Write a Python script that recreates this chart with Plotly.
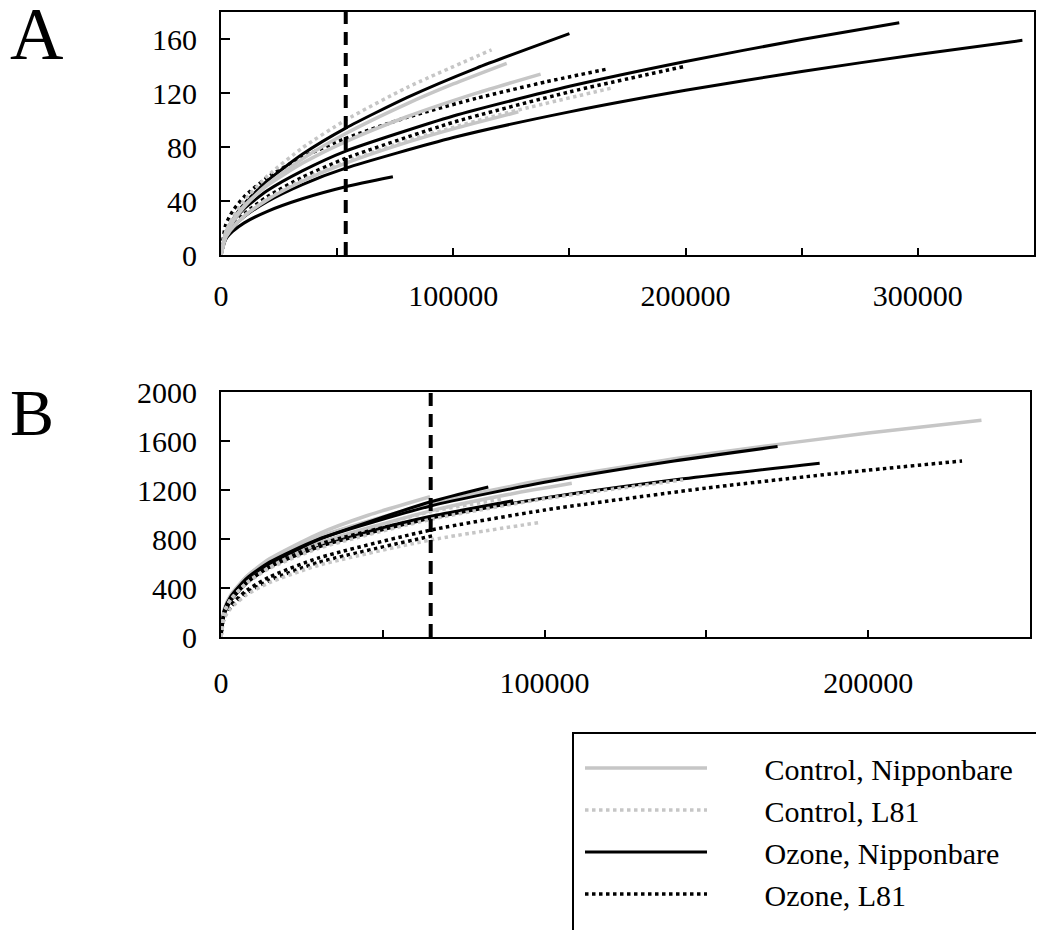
import plotly.graph_objects as go

# ---------------- Panel A: rarefaction curves (x = reads, y = OTUs) ----------------
A_CN1_x = [0, 2000, 5000, 10000, 20000, 35000, 53700, 80000, 100000, 123000]
A_CN1_y = [0, 14.7, 24.4, 35.7, 52.3, 71.1, 90, 112, 126.7, 142]
A_CN2_x = [0, 2000, 5000, 10000, 20000, 35000, 53700, 80000, 110000, 137600]
A_CN2_y = [0, 16.4, 25.9, 36.5, 51.5, 67.9, 84, 102.4, 119.9, 134]
A_CN3_x = [0, 2000, 5000, 10000, 20000, 35000, 53700, 80000, 100000, 128000]
A_CN3_y = [0, 12.7, 20.2, 28.8, 41, 54.6, 68, 83.4, 93.4, 106]

A_CL1_x = [0, 2000, 5000, 10000, 20000, 35000, 53700, 80000, 116500]
A_CL1_y = [0, 16.9, 27.7, 40.3, 58.6, 79.3, 100, 124, 152]
A_CL2_x = [0, 2000, 5000, 10000, 20000, 35000, 53700, 80000, 120000, 169000]
A_CL2_y = [0, 12.9, 20.5, 29.2, 41.6, 55.4, 69, 84.6, 104, 124]

A_ON1_x = [0, 2000, 5000, 10000, 20000, 35000, 53700, 80000, 110000, 150000]
A_ON1_y = [0, 15.9, 26, 37.9, 55, 74.6, 94, 116.6, 138.5, 164]
A_ON2_x = [0, 2000, 5000, 10000, 20000, 35000, 53700, 100000, 150000, 200000, 250000, 292000]
A_ON2_y = [0, 15.9, 24.6, 34.3, 47.7, 62.3, 77, 103, 125, 143.4, 159.6, 172]
A_ON3_x = [0, 2000, 5000, 10000, 20000, 35000, 53700, 100000, 150000, 200000, 250000, 300000, 345000]
A_ON3_y = [0, 13, 20.3, 28.4, 39.7, 52.2, 64.3, 87, 106, 122, 136, 148.5, 159]
A_ON4_x = [0, 2000, 5000, 10000, 20000, 35000, 53700, 74000]
A_ON4_y = [0, 11.5, 17.4, 23.8, 32.4, 41.7, 50.6, 58]

A_OL1_x = [0, 2000, 5000, 10000, 20000, 35000, 53700, 80000, 110000, 140000, 167000]
A_OL1_y = [0, 22.2, 32.4, 43.2, 57.5, 72.4, 86.4, 101.9, 116.1, 128.3, 138]
A_OL2_x = [0, 2000, 5000, 10000, 20000, 35000, 53700, 100000, 150000, 199000]
A_OL2_y = [0, 13.4, 21.4, 30.4, 43.3, 57.6, 71.6, 98.3, 120.8, 139.5]

A_CUTOFF = 53700

# ---------------- Panel B ----------------
B_CN1_x = [0, 1000, 3000, 8000, 15000, 30000, 64800, 100000, 150000, 200000, 235000]
B_CN1_y = [0, 227, 343, 496, 629, 816, 1090, 1283, 1494, 1665, 1770]
B_CN2_x = [0, 1000, 3000, 8000, 15000, 30000, 64800, 90000, 108400]
B_CN2_y = [0, 205, 314, 458, 585, 765, 1030, 1170, 1255]
B_CN3_x = [0, 1000, 3000, 8000, 15000, 30000, 45000, 64600]
B_CN3_y = [0, 216, 335, 496, 638, 841, 990, 1145]

B_CL1_x = [0, 1000, 3000, 8000, 15000, 30000, 64800, 100000, 142800]
B_CL1_y = [0, 205, 308, 442, 560, 722, 960, 1128, 1282]
B_CL2_x = [0, 1000, 3000, 8000, 15000, 30000, 64800, 98000]
B_CL2_y = [0, 152, 234, 346, 444, 584, 792, 933]
B_CL3_x = [0, 1000, 3000, 8000, 15000, 30000, 64800, 87000]
B_CL3_y = [0, 200, 305, 445, 570, 760, 1023, 1125]

B_ON1_x = [0, 1000, 3000, 8000, 15000, 30000, 64800, 82600]
B_ON1_y = [0, 184, 295, 449, 589, 793, 1104, 1225]
B_ON2_x = [0, 1000, 3000, 8000, 15000, 30000, 64800, 100000, 140000, 172000]
B_ON2_y = [0, 217, 330, 480, 611, 797, 1070, 1263, 1437, 1555]
B_ON3_x = [0, 1000, 3000, 8000, 15000, 30000, 64800, 100000, 142800, 185000]
B_ON3_y = [0, 213, 318, 453, 570, 733, 969, 1134, 1291, 1418]
B_ON4_x = [0, 1000, 3000, 8000, 15000, 30000, 64800, 90300]
B_ON4_y = [0, 200, 300, 440, 570, 755, 985, 1113]

B_OL1_x = [0, 1000, 3000, 8000, 15000, 30000, 64800, 100000, 150000, 190000, 229000]
B_OL1_y = [0, 168, 259, 382, 490, 644, 873, 1036, 1216, 1335, 1437]
B_OL2_x = [0, 1000, 3000, 8000, 15000, 30000, 66000]
B_OL2_y = [0, 160, 245, 362, 462, 608, 830]

B_CUTOFF = 64800

# ---------------- axes ----------------
A_XTICKS = [0, 50000, 100000, 150000, 200000, 250000, 300000, 350000]
A_XLABELS = ["0", "", "100000", "", "200000", "", "300000", ""]
A_YTICKS = [0, 40, 80, 120, 160]
B_XTICKS = [0, 50000, 100000, 150000, 200000, 250000]
B_XLABELS = ["0", "", "100000", "", "200000", ""]
B_YTICKS = [0, 400, 800, 1200, 1600, 2000]

LEGEND_NAMES = ["Control, Nipponbare", "Control, L81", "Ozone, Nipponbare", "Ozone, L81"]
LEGEND_PAD = "\u00a0" * 7

GRAY = "#c6c6c6"
BLACK = "#000000"
STYLES = {
    "Control, Nipponbare": dict(color=GRAY, width=3.5, dash="solid"),
    "Control, L81": dict(color=GRAY, width=3.5, dash="3.5px,3.5px"),
    "Ozone, Nipponbare": dict(color=BLACK, width=3, dash="solid"),
    "Ozone, L81": dict(color=BLACK, width=3.5, dash="3.5px,3.5px"),
}

FONT = "Liberation Serif, Times New Roman, serif"

fig = go.Figure()

curves = [
    # (group, panel, x, y)
    ("Ozone, Nipponbare", "A", A_ON1_x, A_ON1_y),
    ("Ozone, Nipponbare", "A", A_ON2_x, A_ON2_y),
    ("Ozone, Nipponbare", "A", A_ON3_x, A_ON3_y),
    ("Ozone, Nipponbare", "A", A_ON4_x, A_ON4_y),
    ("Ozone, L81", "A", A_OL1_x, A_OL1_y),
    ("Ozone, L81", "A", A_OL2_x, A_OL2_y),
    ("Control, Nipponbare", "A", A_CN1_x, A_CN1_y),
    ("Control, Nipponbare", "A", A_CN2_x, A_CN2_y),
    ("Control, Nipponbare", "A", A_CN3_x, A_CN3_y),
    ("Control, L81", "A", A_CL1_x, A_CL1_y),
    ("Control, L81", "A", A_CL2_x, A_CL2_y),
    ("Control, Nipponbare", "B", B_CN1_x, B_CN1_y),
    ("Control, Nipponbare", "B", B_CN2_x, B_CN2_y),
    ("Control, Nipponbare", "B", B_CN3_x, B_CN3_y),
    ("Ozone, Nipponbare", "B", B_ON1_x, B_ON1_y),
    ("Ozone, Nipponbare", "B", B_ON2_x, B_ON2_y),
    ("Ozone, Nipponbare", "B", B_ON3_x, B_ON3_y),
    ("Ozone, Nipponbare", "B", B_ON4_x, B_ON4_y),
    ("Ozone, L81", "B", B_OL1_x, B_OL1_y),
    ("Ozone, L81", "B", B_OL2_x, B_OL2_y),
    ("Control, L81", "B", B_CL1_x, B_CL1_y),
    ("Control, L81", "B", B_CL2_x, B_CL2_y),
    ("Control, L81", "B", B_CL3_x, B_CL3_y),
]

shown = set()
for grp, panel, xs, ys in curves:
    st = STYLES[grp]
    show = grp not in shown
    shown.add(grp)
    fig.add_trace(go.Scatter(
        x=xs, y=ys, mode="lines", name=LEGEND_PAD + grp,
        line=dict(color=st["color"], width=st["width"], dash=st["dash"],
                  shape="spline", smoothing=0.6),
        showlegend=show, legendrank=LEGEND_NAMES.index(grp) + 1,
        xaxis="x" if panel == "A" else "x2",
        yaxis="y" if panel == "A" else "y2",
        hoverinfo="skip",
    ))

# rarefaction cut-off lines
fig.add_trace(go.Scatter(x=[A_CUTOFF, A_CUTOFF], y=[0, 180], mode="lines",
                         line=dict(color=BLACK, width=4, dash="13px,8px"),
                         showlegend=False, xaxis="x", yaxis="y", hoverinfo="skip"))
fig.add_trace(go.Scatter(x=[B_CUTOFF, B_CUTOFF], y=[0, 2000], mode="lines",
                         line=dict(color=BLACK, width=4, dash="13px,8px"),
                         showlegend=False, xaxis="x2", yaxis="y2", hoverinfo="skip"))

# page has an 8px body margin, so the figure is sized to fit the window
W, H = 1036, 922

def px_x(p):
    return p / W

def px_y(p):
    return 1 - p / H

axis_common = dict(showline=True, linecolor=BLACK, linewidth=2, mirror=True,
                   ticks="inside", tickcolor=BLACK, tickwidth=1.5,
                   showgrid=False, zeroline=False, automargin=False,
                   tickfont=dict(family=FONT, size=30, color=BLACK))

fig.update_layout(
    width=W, height=H,
    margin=dict(l=0, r=0, t=0, b=0, autoexpand=False),
    paper_bgcolor="white", plot_bgcolor="white",
    xaxis=dict(domain=[px_x(213), px_x(1026)], range=[0, 350000], anchor="y",
               tickmode="array", tickvals=A_XTICKS, ticktext=A_XLABELS,
               ticklen=7, ticklabelstandoff=13, **axis_common),
    yaxis=dict(domain=[px_y(247), px_y(4)], range=[0, 180], anchor="x",
               tickmode="array", tickvals=A_YTICKS, ticktext=[str(v) for v in A_YTICKS],
               ticklen=9, ticklabelstandoff=16, **axis_common),
    xaxis2=dict(domain=[px_x(213), px_x(1022)], range=[0, 250000], anchor="y2",
                tickmode="array", tickvals=B_XTICKS, ticktext=B_XLABELS,
                ticklen=7, ticklabelstandoff=18, **axis_common),
    yaxis2=dict(domain=[px_y(629), px_y(384)], range=[0, 2000], anchor="x2",
                tickmode="array", tickvals=B_YTICKS, ticktext=[str(v) for v in B_YTICKS],
                ticklen=9, ticklabelstandoff=16, **axis_common),
    legend=dict(x=px_x(572), y=px_y(734), xanchor="left", yanchor="top",
                bgcolor="rgba(0,0,0,0)", borderwidth=0, itemwidth=122,
                font=dict(family=FONT, size=30, color=BLACK),
                traceorder="normal"),
    showlegend=True,
)

# legend frame
fig.add_shape(type="rect", xref="paper", yref="paper",
              x0=px_x(565), x1=px_x(1029), y0=px_y(725), y1=px_y(960),
              line=dict(color=BLACK, width=2), fillcolor="rgba(0,0,0,0)", layer="above")

fig.add_annotation(text="A", xref="paper", yref="paper", x=px_x(0), y=px_y(26),
                   xanchor="left", yanchor="middle", showarrow=False,
                   font=dict(family=FONT, size=74, color=BLACK))
fig.add_annotation(text="B", xref="paper", yref="paper", x=px_x(0), y=px_y(405),
                   xanchor="left", yanchor="middle", showarrow=False,
                   font=dict(family=FONT, size=66, color=BLACK))

fig.write_html("out.html")
